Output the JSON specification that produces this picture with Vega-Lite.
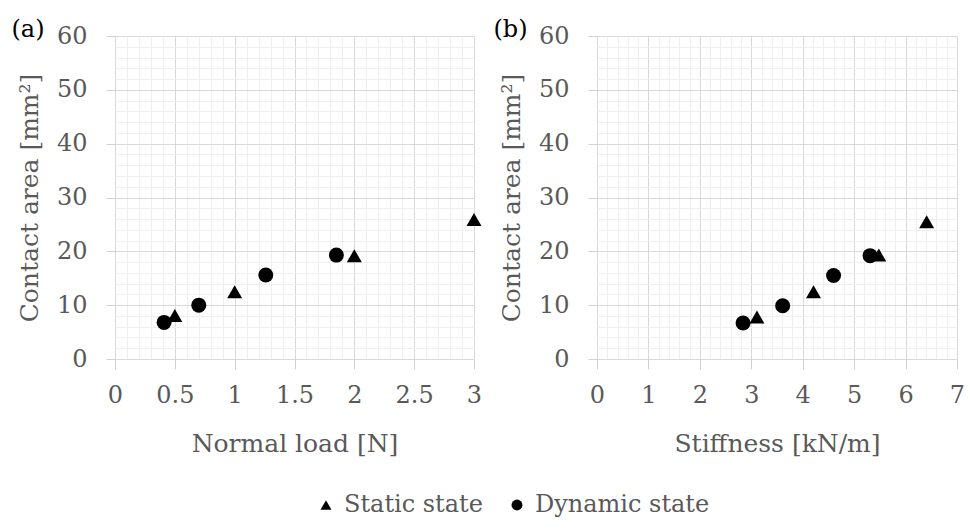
{
  "$schema": "https://vega.github.io/schema/vega-lite/v6.json",
  "background": "white",
  "padding": {"top": 18, "left": 11, "right": 5, "bottom": 5},
  "spacing": 11,
  "datasets": {
    "load": [
      {"load": 0.5, "area": 8.1, "state": "Static state"},
      {"load": 1.0, "area": 12.5, "state": "Static state"},
      {"load": 2.0, "area": 19.2, "state": "Static state"},
      {"load": 3.0, "area": 25.9, "state": "Static state"},
      {"load": 0.41, "area": 6.8, "state": "Dynamic state"},
      {"load": 0.7, "area": 10.0, "state": "Dynamic state"},
      {"load": 1.26, "area": 15.6, "state": "Dynamic state"},
      {"load": 1.85, "area": 19.3, "state": "Dynamic state"}
    ],
    "stiffness": [
      {"stiffness": 3.11, "area": 7.8, "state": "Static state"},
      {"stiffness": 4.21, "area": 12.5, "state": "Static state"},
      {"stiffness": 5.48, "area": 19.3, "state": "Static state"},
      {"stiffness": 6.41, "area": 25.5, "state": "Static state"},
      {"stiffness": 2.84, "area": 6.7, "state": "Dynamic state"},
      {"stiffness": 3.61, "area": 9.9, "state": "Dynamic state"},
      {"stiffness": 4.6, "area": 15.5, "state": "Dynamic state"},
      {"stiffness": 5.31, "area": 19.2, "state": "Dynamic state"}
    ]
  },
  "hconcat": [
    {
      "width": 359,
      "height": 323,
      "title": {"text": "(a)", "anchor": "start", "frame": "bounds", "offset": -18, "dx": -6, "fontSize": 24, "font": "DejaVu Serif", "fontWeight": "normal", "color": "#000000"},
      "data": {"name": "load"},
      "mark": {"type": "point", "filled": true, "opacity": 1, "size": 225, "color": "#000000"},
      "encoding": {
        "x": {
          "field": "load", "type": "quantitative", "title": "Normal load [N]",
          "scale": {"domain": [0, 3], "nice": false, "zero": true},
          "axis": {
            "format": "~g",
            "labelFont": "DejaVu Serif", "titleFont": "DejaVu Serif",
            "values": [0,0.1,0.2,0.3,0.4,0.5,0.6,0.7,0.8,0.9,1,1.1,1.2,1.3,1.4,1.5,1.6,1.7,1.8,1.9,2,2.1,2.2,2.3,2.4,2.5,2.6,2.7,2.8,2.9,3],
            "labelExpr": "abs(datum.value*2 - round(datum.value*2)) < 0.001 ? datum.label : ''",
            "gridColor": {"condition": {"test": "abs(datum.value*2 - round(datum.value*2)) < 0.001", "value": "#d9d9d9"}, "value": "#efefef"},
            "tickColor": {"condition": {"test": "abs(datum.value*2 - round(datum.value*2)) < 0.001", "value": "#d0d0d0"}, "value": "transparent"}
          }
        },
        "y": {
          "field": "area", "type": "quantitative", "title": "Contact area [mm²]",
          "scale": {"domain": [0, 60], "nice": false},
          "axis": {
            "labelFont": "DejaVu Serif", "titleFont": "DejaVu Serif",
            "values": [0,2,4,6,8,10,12,14,16,18,20,22,24,26,28,30,32,34,36,38,40,42,44,46,48,50,52,54,56,58,60],
            "labelExpr": "datum.value % 10 === 0 ? datum.label : ''",
            "gridColor": {"condition": {"test": "datum.value % 10 === 0", "value": "#d9d9d9"}, "value": "#efefef"},
            "tickColor": {"condition": {"test": "datum.value % 10 === 0", "value": "#d0d0d0"}, "value": "transparent"}
          }
        },
        "shape": {
          "field": "state", "type": "nominal", "title": null,
          "scale": {"domain": ["Static state", "Dynamic state"], "range": ["triangle-up", "circle"]},
          "legend": {"orient": "none", "legendX": 199, "legendY": 457, "direction": "horizontal"}
        }
      }
    },
    {
      "width": 360,
      "height": 323,
      "title": {"text": "(b)", "anchor": "start", "frame": "bounds", "offset": -18, "dx": -6, "fontSize": 24, "font": "DejaVu Serif", "fontWeight": "normal", "color": "#000000"},
      "data": {"name": "stiffness"},
      "mark": {"type": "point", "filled": true, "opacity": 1, "size": 225, "color": "#000000"},
      "encoding": {
        "x": {
          "field": "stiffness", "type": "quantitative", "title": "Stiffness [kN/m]",
          "scale": {"domain": [0, 7], "nice": false},
          "axis": {
            "format": "~g",
            "labelFont": "DejaVu Serif", "titleFont": "DejaVu Serif",
            "values": [0,0.2,0.4,0.6,0.8,1,1.2,1.4,1.6,1.8,2,2.2,2.4,2.6,2.8,3,3.2,3.4,3.6,3.8,4,4.2,4.4,4.6,4.8,5,5.2,5.4,5.6,5.8,6,6.2,6.4,6.6,6.8,7],
            "labelExpr": "abs(datum.value - round(datum.value)) < 0.001 ? datum.label : ''",
            "gridColor": {"condition": {"test": "abs(datum.value - round(datum.value)) < 0.001", "value": "#d9d9d9"}, "value": "#efefef"},
            "tickColor": {"condition": {"test": "abs(datum.value - round(datum.value)) < 0.001", "value": "#d0d0d0"}, "value": "transparent"}
          }
        },
        "y": {
          "field": "area", "type": "quantitative", "title": "Contact area [mm²]",
          "scale": {"domain": [0, 60], "nice": false},
          "axis": {
            "labelFont": "DejaVu Serif", "titleFont": "DejaVu Serif",
            "values": [0,2,4,6,8,10,12,14,16,18,20,22,24,26,28,30,32,34,36,38,40,42,44,46,48,50,52,54,56,58,60],
            "labelExpr": "datum.value % 10 === 0 ? datum.label : ''",
            "gridColor": {"condition": {"test": "datum.value % 10 === 0", "value": "#d9d9d9"}, "value": "#efefef"},
            "tickColor": {"condition": {"test": "datum.value % 10 === 0", "value": "#d0d0d0"}, "value": "transparent"}
          }
        },
        "shape": {
          "field": "state", "type": "nominal", "title": null,
          "scale": {"domain": ["Static state", "Dynamic state"], "range": ["triangle-up", "circle"]}
        }
      }
    }
  ],
  "resolve": {"scale": {"shape": "shared"}, "legend": {"shape": "shared"}},
  "config": {
    "font": "DejaVu Serif",
    "view": {"stroke": null},
    "style": {
      "guide-label": {"font": "DejaVu Serif"},
      "guide-title": {"font": "DejaVu Serif"}
    },
    "axis": {
      "domain": false,
      "labelFont": "DejaVu Serif",
      "labelFontSize": 24,
      "labelColor": "#595959",
      "labelOverlap": false,
      "labelFlush": false,
      "titleFont": "DejaVu Serif",
      "titleFontSize": 25,
      "titleFontWeight": "normal",
      "titleColor": "#595959",
      "gridOpacity": 1,
      "gridWidth": 1,
      "tickWidth": 1
    },
    "axisX": {"tickSize": 10, "labelPadding": 14, "titlePadding": 24},
    "axisY": {"tickSize": 9, "labelPadding": 19, "titlePadding": 14},
    "legend": {
      "labelFont": "DejaVu Serif",
      "labelFontSize": 24,
      "labelColor": "#595959",
      "labelLimit": 0,
      "symbolSize": 120,
      "symbolFillColor": "#000000",
      "symbolStrokeColor": "#000000",
      "symbolStrokeWidth": 0,
      "columnPadding": 22,
      "labelOffset": 6
    }
  }
}
